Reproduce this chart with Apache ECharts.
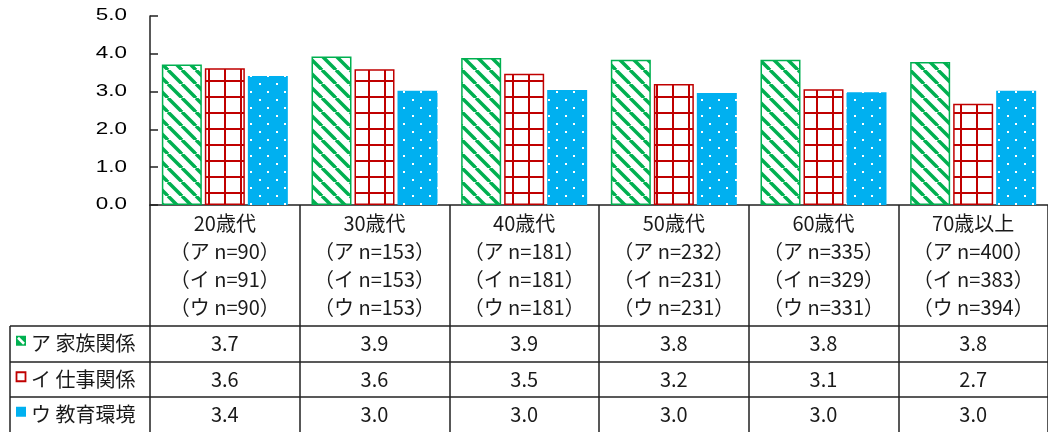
<!DOCTYPE html>
<html><head><meta charset="utf-8">
<script src="https://cdn.jsdelivr.net/npm/echarts@6/dist/echarts.min.js"></script>
<style>html,body{margin:0;padding:0;background:#fff}#c{width:1048px;height:432px}</style>
</head><body><div id="c"></div>
<script>
const ageGroups = ['20歳代','30歳代','40歳代','50歳代','60歳代','70歳以上'];
const nA = [90,153,181,232,335,400];
const nI = [91,153,181,231,329,383];
const nU = [90,153,181,231,331,394];
const seriesNames = ['ア 家族関係','イ 仕事関係','ウ 教育環境'];
const family = [3.72,3.93,3.89,3.84,3.84,3.78];
const work   = [3.62,3.59,3.47,3.20,3.06,2.68];
const edu    = [3.41,3.02,3.04,2.96,2.98,3.02];
const yTicks = [0,1,2,3,4,5];

const GREEN='#00B050', RED='#C00000', BLUE='#00B0F0', INK='#1a1a1a';
const JP='"Noto Sans CJK JP", sans-serif';

function mk(w,h,fn){const c=document.createElement('canvas');c.width=w;c.height=h;fn(c.getContext('2d'));return c;}
const stripeTile = mk(14,14,g=>{g.fillStyle='#fff';g.fillRect(0,0,14,14);g.strokeStyle=GREEN;g.lineWidth=3.5;
  for(const o of [-14,0,14]){g.beginPath();g.moveTo(o,0);g.lineTo(o+14,14);g.stroke();}});
const gridTile = mk(16,16,g=>{g.fillStyle='#fff';g.fillRect(0,0,16,16);g.fillStyle=RED;g.fillRect(0,0,16,2);g.fillRect(0,0,2,16);});
const dotTile = mk(17,16,g=>{g.fillStyle=BLUE;g.fillRect(0,0,17,16);g.fillStyle='#fff';g.fillRect(4,3,2,2);g.fillRect(12,11,2,2);});

const labels = ageGroups.map((a,i)=>`${a}\n（ア n=${nA[i]}）\n（イ n=${nI[i]}）\n（ウ n=${nU[i]}）`);

const chart = echarts.init(document.getElementById('c'),null,{renderer:'canvas'});
chart.setOption({
  animation:false,
  grid:{left:150,top:16,bottom:227,right:-6,containLabel:false},
  xAxis:{type:'category',data:labels,boundaryGap:true,
    axisLine:{lineStyle:{color:'#222',width:1.5}},
    axisTick:{show:true,length:227,lineStyle:{color:'#222',width:1.5}},
    axisLabel:{interval:0,margin:4,color:INK,fontFamily:JP,fontSize:20,lineHeight:28}},
  yAxis:{type:'value',min:0,max:5,interval:1,
    axisLine:{show:true,lineStyle:{color:'#222',width:1.5}},
    axisTick:{show:true,inside:true,length:8,lineStyle:{color:'#222',width:1.5}},
    axisLabel:{show:false},splitLine:{show:false}},
  series:[
    {name:seriesNames[0],type:'bar',data:family,barWidth:40,barGap:'7.5%',
     itemStyle:{color:{image:stripeTile,repeat:'repeat'},borderColor:GREEN,borderWidth:1.5}},
    {name:seriesNames[1],type:'bar',data:work,barWidth:40,barGap:'7.5%',
     itemStyle:{color:{image:gridTile,repeat:'repeat'},borderColor:RED,borderWidth:1.5}},
    {name:seriesNames[2],type:'bar',data:edu,barWidth:40,barGap:'7.5%',
     itemStyle:{color:{image:dotTile,repeat:'repeat'}}}
  ]
});

const g = [];
yTicks.forEach(v=>{
  const py = chart.convertToPixel({yAxisIndex:0}, v);
  g.push({type:'text',x:127,y:py,scaleX:1.4,silent:true,
    style:{text:v.toFixed(1),fill:'#000',font:'16px "Liberation Sans", Arial, sans-serif',textAlign:'right',textVerticalAlign:'middle'}});
});
const rowTop=[326,362,397], rowH=35.5, W=1048;
rowTop.forEach(y=>g.push({type:'line',shape:{x1:10,y1:y,x2:W,y2:y},style:{stroke:'#222',lineWidth:1.5},silent:true}));
g.push({type:'line',shape:{x1:10,y1:326,x2:10,y2:432},style:{stroke:'#222',lineWidth:1.5},silent:true});
const rows=[family,work,edu];
rows.forEach((arr,r)=>{
  const cy = rowTop[r]+rowH/2;
  arr.forEach((v,i)=>{
    const px = chart.convertToPixel({xAxisIndex:0}, i);
    g.push({type:'text',x:px,y:cy,silent:true,style:{text:v.toFixed(1),fill:INK,font:'20px '+JP,textAlign:'center',textVerticalAlign:'middle'}});
  });
  g.push({type:'text',x:31,y:cy,silent:true,style:{text:seriesNames[r],fill:INK,font:'20px '+JP,textAlign:'left',textVerticalAlign:'middle'}});
});
const ky=rowTop.map(t=>t+rowH/2-3);
g.push({type:'rect',shape:{x:16,y:ky[0]-5,width:10,height:10},style:{fill:GREEN},silent:true});
g.push({type:'line',shape:{x1:18,y1:ky[0]-3,x2:24,y2:ky[0]+3},style:{stroke:'#fff',lineWidth:2.5},silent:true});
g.push({type:'rect',shape:{x:16.5,y:ky[1]-4.5,width:9,height:9},style:{fill:'#fff',stroke:RED,lineWidth:1.8},silent:true});
g.push({type:'rect',shape:{x:16,y:ky[2]-5,width:10,height:10},style:{fill:BLUE},silent:true});
chart.setOption({graphic:g});
</script></body></html>
